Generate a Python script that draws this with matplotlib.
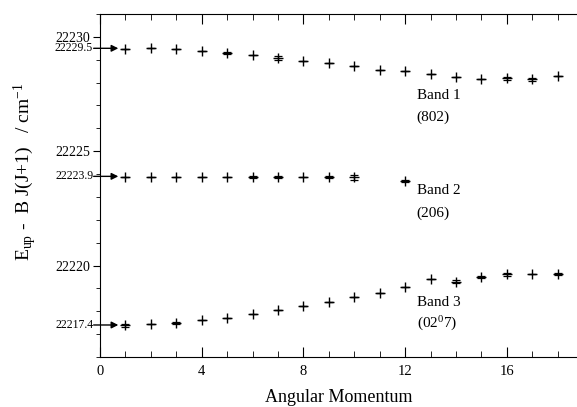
import matplotlib
matplotlib.use("Agg")
import matplotlib.pyplot as plt
from matplotlib.ticker import MultipleLocator

plt.rcParams['font.family'] = ['Liberation Serif', 'DejaVu Serif']
plt.rcParams['mathtext.fontset'] = 'custom'
plt.rcParams['mathtext.rm'] = 'Liberation Serif'
plt.rcParams['mathtext.it'] = 'Liberation Serif:italic'

# angular momentum J
J = list(range(1, 19))
J2 = [1, 2, 3, 4, 5, 6, 7, 8, 9, 10, 12]

# E_up - B J(J+1) / cm-1
band1 = [22229.48, 22229.51, 22229.45, 22229.38, 22229.31, 22229.19, 22229.07, 22228.94, 22228.84,
         22228.72, 22228.57, 22228.50, 22228.36, 22228.25, 22228.17, 22228.19, 22228.15, 22228.28]
band2 = [22223.89, 22223.89, 22223.89, 22223.88, 22223.88, 22223.87, 22223.87, 22223.87, 22223.86,
         22223.85, 22223.71]
band3 = [22217.39, 22217.45, 22217.49, 22217.60, 22217.71, 22217.89, 22218.05, 22218.22, 22218.41,
         22218.62, 22218.82, 22219.06, 22219.42, 22219.29, 22219.51, 22219.61, 22219.61, 22219.64]

# error bars (only a few points show them)
err1 = [0, 0, 0, 0, 0.04, 0, 0.1, 0, 0, 0, 0, 0, 0, 0, 0, 0.06, 0.06, 0]
err2 = [0, 0, 0, 0, 0, 0.05, 0.06, 0, 0.05, 0.1, 0.05]
err3 = [0.06, 0, 0.05, 0, 0, 0, 0, 0, 0, 0, 0, 0, 0, 0.06, 0.05, 0.05, 0, 0.05]

# band origins (arrows at J=0)
origins = [22229.5, 22223.9, 22217.4]
origin_labels = ['22229.5', '22223.9', '22217.4']

band_names = ['Band 1', 'Band 2', 'Band 3']
band_assign = ['(802)', '(206)', '(02$^{0}$7)']
name_y = [22227.43, 22223.27, 22218.40]
assign_y = [22226.47, 22222.30, 22217.44]

fig = plt.figure(figsize=(5.77, 4.07), dpi=100)
ax = fig.add_axes([100 / 577, 50 / 407, 478 / 577, 343 / 407])

for xs, ys, es in [(J, band1, err1), (J2, band2, err2), (J, band3, err3)]:
    ax.plot(xs, ys, '+', color='black', ms=7.5, mew=1.0)
    ax.errorbar(xs, ys, yerr=es, fmt='none', ecolor='black', elinewidth=0.9, capsize=3, capthick=0.9)

for y0, lab in zip(origins, origin_labels):
    ax.annotate('', xy=(0.72, y0), xytext=(-0.25, y0),
                arrowprops=dict(arrowstyle='-|>', color='black', lw=1, mutation_scale=10,
                                shrinkA=0, shrinkB=0),
                annotation_clip=False)
    ax.text(-0.27, y0, lab, ha='right', va='center', fontsize=8.5)

for nm, ny, asg, ay in zip(band_names, name_y, band_assign, assign_y):
    ax.text(12.45, ny, nm, ha='left', va='center', fontsize=11)
    ax.text(12.45, ay, asg, ha='left', va='center', fontsize=11)

ax.set_xlim(0, 18.8)
ax.set_ylim(22216, 22231)
ax.xaxis.set_major_locator(MultipleLocator(4))
ax.xaxis.set_minor_locator(MultipleLocator(1))
ax.set_yticks([22220, 22225, 22230])
ax.yaxis.set_minor_locator(MultipleLocator(1))
ax.tick_params(axis='x', which='both', direction='in', top=True, labelsize=10.5, pad=6)
ax.tick_params(axis='x', which='major', length=7)
ax.tick_params(axis='x', which='minor', length=4)
ax.tick_params(axis='y', which='both', direction='out', labelsize=10, pad=2)
ax.tick_params(axis='y', which='major', length=5)
ax.tick_params(axis='y', which='minor', length=3)
ax.spines['right'].set_visible(False)

ax.set_xlabel('Angular Momentum', fontsize=13, labelpad=8)
fig.text(25 / 577, 1 - 172 / 407, r'E$_{\rm up}$ -  B J(J+1)   / cm$^{-1}$', rotation=90,
         ha='center', va='center', fontsize=14)

fig.savefig('out.png', dpi=100)
